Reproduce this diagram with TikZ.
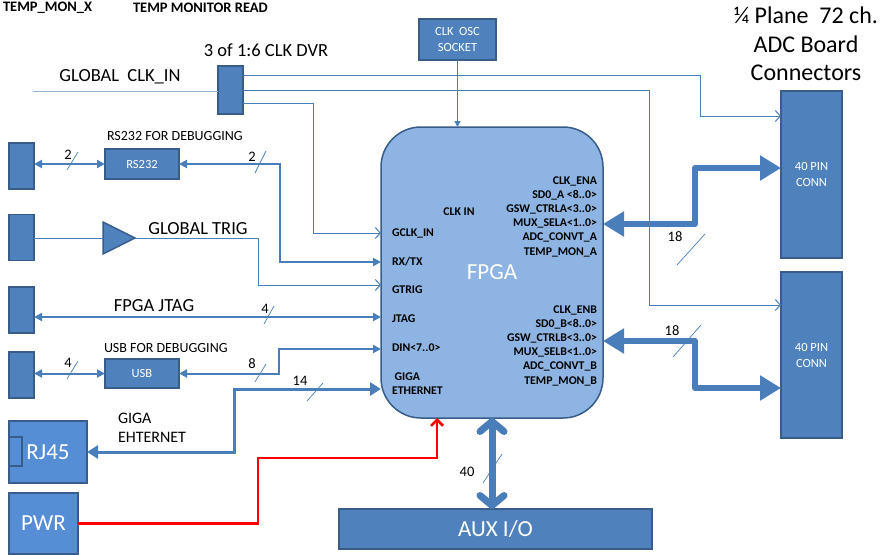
\documentclass[tikz,border=0pt]{standalone}
\usepackage{fontspec}
\setmainfont{Carlito}
\usetikzlibrary{positioning,arrows.meta,shapes.geometric}
\definecolor{boxblue}{HTML}{4F81BD}
\definecolor{boxedge}{HTML}{385D8A}
\definecolor{fpgafill}{HTML}{8DB4E2}
\definecolor{lineblue}{HTML}{4A7EBB}
\definecolor{lightline}{HTML}{95B3D7}
\definecolor{brightblue}{HTML}{558ED5}

\begin{document}
\begin{tikzpicture}[x=1pt,y=-1pt,
  every node/.style={inner sep=0pt,outer sep=0pt},
  blk/.style={draw=boxedge,line width=1.5pt,fill=boxblue,text=white},
  jack/.style={blk,minimum width=25pt,minimum height=46pt},
  boxtxt/.style={font=\fontsize{12.5}{16}\selectfont},
  small/.style={font=\fontsize{14}{16}\selectfont},
  lbl/.style={font=\fontsize{18.5}{21}\selectfont},
  big/.style={font=\fontsize{23}{26}\selectfont},
  pin/.style={font=\fontsize{11.8}{14.2}\selectfont\bfseries},
  num/.style={font=\fontsize{14.5}{16}\selectfont},
  wire/.style={draw=lineblue,line width=1pt,>={Straight Barb[length=5pt,width=11pt]}},
  bus/.style={draw=lineblue,line width=2pt,>={Triangle[length=8pt,width=8pt]}},
  gbus/.style={draw=lineblue,line width=3pt,>={Triangle[length=11pt,width=13pt]}},
  fat/.style={draw=lineblue,line width=6pt,line join=round,>={Triangle[length=21pt,width=24pt]}},
  auxbus/.style={draw=lineblue,line width=7pt,>={Straight Barb[length=10pt,width=24pt,round]}},
  pwrline/.style={draw=red,line width=2.5pt,>={Straight Barb[length=6pt,width=12pt]}},
  tick/.style={draw=lineblue,line width=0.7pt}]
\useasboundingbox (0,0) rectangle (888,554);

\node[font=\fontsize{14.5}{16}\selectfont\bfseries,anchor=west] (tmx) at (3,8) {TEMP\_MON\_X};
\node[font=\fontsize{14.5}{16}\selectfont\bfseries,anchor=west] (tmr) at (133,8) {TEMP MONITOR READ};

\node[blk,minimum width=25pt,minimum height=48pt] (dvr) at (230.5,90) {};
\node[lbl,above=9pt of dvr,xshift=35.5pt] (dvrlbl) {3 of 1:6 CLK DVR};
\node[lbl] (clkin) at (120,77) {GLOBAL~~CLK\_IN};
\coordinate (clksrc) at (33,91);
\node[blk,boxtxt,align=center,minimum width=77pt,minimum height=41pt] (osc) at (457.5,39.5) {CLK~~OSC\\SOCKET};

\node[draw=boxedge,line width=1.5pt,fill=fpgafill,rounded corners=40pt,minimum width=222pt,minimum height=291pt,big,text=white] (fpga) at (492,272.5) {FPGA};
\node[pin] (pclk) at (459,212) {CLK IN};
\node[pin,anchor=west] (pgclk) at (392,233) {GCLK\_IN};
\node[pin,anchor=west] (prx) at (392,262) {RX/TX};
\node[pin,anchor=west] (ptrig) at (392,290) {GTRIG};
\node[pin,anchor=west] (pjtag) at (392,319) {JTAG};
\node[pin,anchor=west] (pdin) at (392,348) {DIN<7..0>};
\node[pin,anchor=west,align=left] (pgiga) at (392,384) {~GIGA\\ETHERNET};
\node[pin,anchor=east,align=right] (pa) at (597,216.5) {CLK\_ENA\\SD0\_A <8..0>\\GSW\_CTRLA<3..0>\\MUX\_SELA<1..0>\\ADC\_CONVT\_A\\TEMP\_MON\_A};
\node[pin,anchor=east,align=right] (pb) at (597,345.5) {CLK\_ENB\\SD0\_B<8..0>\\GSW\_CTRLB<3..0>\\MUX\_SELB<1..0>\\ADC\_CONVT\_B\\TEMP\_MON\_B};

\node[font=\fontsize{24}{28.5}\selectfont,align=center] (head) at (806,44) {¼ Plane~~72 ch.\\ADC Board\\Connectors};
\node[blk,boxtxt,align=center,minimum width=61pt,minimum height=167pt] (conna) at (811.5,174.5) {40 PIN\\CONN};
\node[blk,boxtxt,align=center,minimum width=61pt,minimum height=166pt] (connb) at (811.5,355) {40 PIN\\CONN};

\node[jack] (ja) at (21.5,166) {};
\node[jack] (jb) at (21.5,237.5) {};
\node[jack] (jc) at (21.5,310) {};
\node[jack] (jd) at (21.5,375) {};
\node[blk,boxtxt,minimum width=74pt,minimum height=30pt] (rs) at (142,164) {RS232};
\node[small,anchor=west] (rslbl) at (107,136) {RS232 FOR DEBUGGING};
\node[blk,isosceles triangle,isosceles triangle stretches,minimum width=32pt,minimum height=32pt,anchor=apex] (trig) at (135,238) {};
\node[lbl] (triglbl) at (198,229) {GLOBAL TRIG};
\node[lbl] (jtaglbl) at (154,306) {FPGA JTAG};
\node[blk,boxtxt,minimum width=74pt,minimum height=29pt] (usb) at (142,373.5) {USB};
\node[small,anchor=west] (usblbl) at (104,348) {USB FOR DEBUGGING};
\node[blk,fill=brightblue,big,minimum width=78pt,minimum height=62pt] (rj) at (48,452) {RJ45};
\node[blk,fill=brightblue,minimum width=13pt,minimum height=29pt] (rjtab) at (15.5,451.5) {};
\node[font=\fontsize{16}{19}\selectfont,anchor=north west,align=left] (gigalbl) at (118,413) {GIGA\\EHTERNET};
\node[blk,fill=brightblue,big,minimum width=69pt,minimum height=61pt] (pwr) at (43.5,523.5) {PWR};
\node[blk,big,minimum width=313pt,minimum height=40pt] (aux) at (495.5,529) {AUX I/O};

\draw[wire,draw=lightline] (clksrc) -- (clksrc -| dvr.west);
\draw[wire,->] (dvr.east |- 0,75) -| (700,116) -- (conna.west |- 0,116);
\draw[wire,->] (dvr.east) -| (649,305) -- (connb.west |- 0,305);
\draw[wire,->] (dvr.east |- 0,103) -| (313,233) -- (fpga.west |- 0,233);
\draw[wire,-{Triangle[length=6pt,width=6pt]}] (osc.south) -- (osc.south |- fpga.north);
\draw[bus,<->] (rs.west -| ja.east) -- (rs.west);
\draw[bus,<->] (rs.east) -| (280,262) -- (fpga.west |- 0,262);
\draw[wire] (trig.west -| jb.east) -- (trig.west);
\draw[wire,->] (trig.apex) -| (258,285) -- (fpga.west |- 0,285);
\draw[bus,<->] (jc.east |- 0,317) -- (fpga.west |- 0,317);
\draw[bus,<->] (usb.west -| jd.east) -- (usb.west);
\draw[bus,<->] (usb.east) -| (279,349) -- (fpga.west |- 0,349);
\draw[gbus,<->] (rj.east) -| (234,389) -- (fpga.west |- 0,389);
\draw[fat,<->] (fpga.east |- 0,224) -| (695,168) -- (conna.west |- 0,168);
\draw[fat,<->] (fpga.east |- 0,341) -| (695,388) -- (connb.west |- 0,388);
\draw[pwrline,->] (pwr.east) -| (258,458) -| (437,0 |- fpga.south);
\draw[auxbus,<->] (fpga.south) -- (fpga.south |- aux.north);

\draw[tick] (67,170) -- (78,152);
\draw[tick] (255,173) -- (266,151);
\draw[tick] (264,324) -- (274,306);
\draw[tick] (67,379) -- (78,361);
\draw[tick] (255,382) -- (266,364);
\draw[tick] (307,401) -- (323,383);
\draw[tick] (677,265) -- (705,234);
\draw[tick] (673,357) -- (701,325);
\draw[tick] (483,483) -- (502,454);
\node[num] (n1) at (68,155) {2};
\node[num] (n2) at (252,157) {2};
\node[num] (n3) at (265,309) {4};
\node[num] (n4) at (68,363) {4};
\node[num] (n5) at (252,364) {8};
\node[num] (n6) at (300,381) {14};
\node[num] (n7) at (675,237) {18};
\node[num] (n8) at (672,331) {18};
\node[num] (n9) at (467,472) {40};
\end{tikzpicture}
\end{document}
